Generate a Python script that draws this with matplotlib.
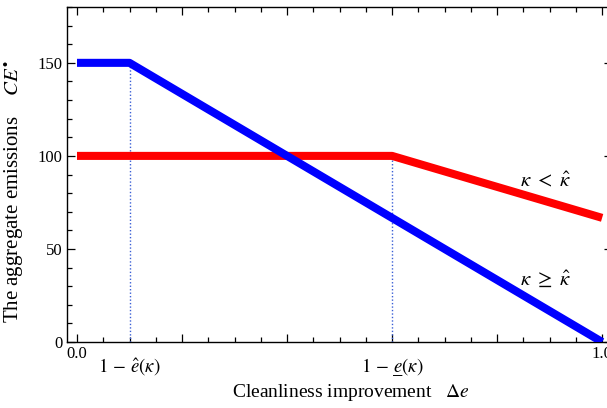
import numpy as np
import matplotlib.pyplot as plt
from matplotlib.ticker import MultipleLocator, FixedLocator, FixedFormatter

plt.rcParams['font.family'] = ['Liberation Serif', 'DejaVu Serif']
plt.rcParams['mathtext.fontset'] = 'stix'

# kink points of the two emission curves
e_hat = 0.1
e_low = 0.6

x_blue = [0.0, e_hat, 1.0]
y_blue = [150, 150, 0]

x_red = [0.0, e_low, 1.0]
y_red = [100, 100, 66.7]

fig = plt.figure(figsize=(6.07, 4.08), dpi=100)
ax = fig.add_axes([0.1104, 0.1618, 0.898, 0.821])

ax.plot(x_red, y_red, color='#ff0000', lw=5.8, solid_capstyle='butt', zorder=3)
ax.plot(x_blue, y_blue, color='#0000ff', lw=5.8, solid_capstyle='butt', zorder=3)

# dotted guides down to the kinks
ax.vlines([e_hat, e_low], 0, [y_blue[1], y_red[1]], colors='#3a5fd6',
          linestyles=(0, (1, 1.5)), lw=1.0, zorder=2)

ax.text(0.893, 86, r'$\kappa\ <\ \hat{\kappa}$', fontsize=15,
        ha='center', va='center')
ax.text(0.893, 33.5, r'$\kappa\ \geq\ \hat{\kappa}$', fontsize=15,
        ha='center', va='center')

ax.set_xlim(-0.019, 1.019)
ax.set_ylim(0, 180)

ax.xaxis.set_major_locator(FixedLocator([0, 0.2, 0.4, 0.6, 0.8, 1.0]))
ax.xaxis.set_major_formatter(FixedFormatter(['0.0', '', '', '', '', '1.0']))
ax.xaxis.set_minor_locator(MultipleLocator(0.05))
ax.yaxis.set_major_locator(FixedLocator([0, 50, 100, 150]))
ax.yaxis.set_minor_locator(MultipleLocator(10))

ax.tick_params(which='both', direction='in', top=True, right=True,
               labelsize=12, width=0.9)
ax.tick_params(which='major', length=6, pad=3)
ax.tick_params(which='minor', length=3.5)

# symbolic labels under the kinks
ax.text(e_hat, -0.076, r'$1\,-\,\hat{e}(\kappa)$', transform=ax.get_xaxis_transform(),
        fontsize=13.5, ha='center', va='center')
ax.text(e_low, -0.076, '$1\\,-\\,e\u0332(\\kappa)$', transform=ax.get_xaxis_transform(),
        fontsize=13.5, ha='center', va='center')

ax.set_xlabel(r'Cleanliness improvement   $\Delta e$', fontsize=14, va='center')
ax.set_ylabel(r'The aggregate emissions    $CE^{\bullet}$', fontsize=15, va='center')
ax.xaxis.set_label_coords(0.521, -0.15)
ax.yaxis.set_label_coords(-0.099, 0.45)

for s in ax.spines.values():
    s.set_linewidth(1.0)

fig.savefig('out.png', dpi=100)
